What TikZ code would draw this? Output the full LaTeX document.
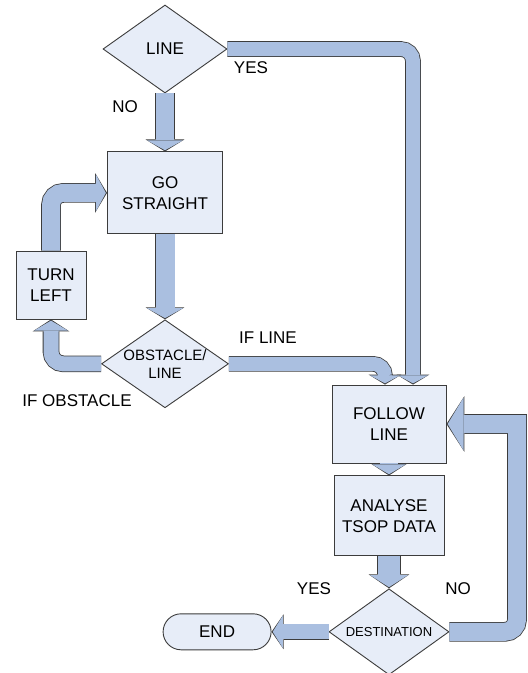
\documentclass[tikz,border=0pt]{standalone}
\usepackage{fontspec}
\setmainfont{Liberation Sans}
\usetikzlibrary{arrows.meta,positioning,shapes.geometric,calc}

\definecolor{boxfill}{RGB}{231,237,248}
\definecolor{flowfill}{RGB}{170,191,224}
\definecolor{edge}{RGB}{60,60,60}

\begin{document}
\begin{tikzpicture}[
  x=1pt, y=-1pt,
  font=\fontsize{17}{21}\selectfont,
  stepbox/.style={
    draw=edge, fill=boxfill, line width=0.9pt, align=center, inner sep=0pt},
  decision/.style={
    diamond, draw=edge, fill=boxfill, line width=0.9pt, align=center,
    inner sep=-14pt},
  term/.style={
    draw=edge, fill=boxfill, line width=0.9pt, rounded corners=18pt,
    minimum width=108pt, minimum height=36pt},
  flow/.style n args={3}{
    line width=#1, draw=flowfill, shorten >=1.2pt,
    -{Triangle[width=#2, length=#3, line width=0pt]},
    preaction={draw=edge, line width=#1+1.6pt, shorten >=0pt,
      -{Triangle[width=#2+2.8pt, length=#3+2pt, line width=0pt]}}},
  tag/.style={inner sep=0pt}
]

\path[fill=white, use as bounding box] (0,0) rectangle (528,673);

\node[decision, minimum width=124pt, minimum height=88pt] (line) at (165,49) {LINE};

\node[stepbox, below=58pt of line, minimum width=115pt, minimum height=82pt] (go)
  {GO\\STRAIGHT};

\node[decision, below=85pt of go, minimum width=127pt, minimum height=88pt,
  font=\fontsize{15}{18}\selectfont] (obst) {OBSTACLE/\\LINE};

\node[stepbox, minimum width=70pt, minimum height=68pt] (turn) at (51,285)
  {TURN\\LEFT};

\node[stepbox, minimum width=114pt, minimum height=78pt] (follow) at (389,424)
  {FOLLOW\\LINE};

\node[stepbox, below=12pt of follow, minimum width=110pt, minimum height=80pt] (analyse)
  {ANALYSE\\TSOP DATA};

\node[decision, below=32pt of analyse, minimum width=120pt, minimum height=86pt,
  font=\fontsize{13}{16}\selectfont] (dest) {DESTINATION};

\node[term, left=57pt of dest] (stop) {END};

\coordinate (back) at (517,424);

% labels
\node[tag] (yesline) at (251,68) {YES};
\node[tag] (noline) at (125,107) {NO};
\node[tag] (ifline) at (268,338) {IF LINE};
\node[tag] (ifobst) at (77,401) {IF OBSTACLE};
\node[tag] (yesdest) at (314,589) {YES};
\node[tag] (nodest) at (458,589) {NO};

% block arrows
\draw[flow={18pt}{36pt}{10pt}] (line) -- (go);
\draw[flow={14pt}{30pt}{8pt}, rounded corners=12pt] (line.east) -| ([xshift=24pt]follow.north);
\draw[flow={19pt}{36pt}{10pt}] (go) -- (obst);
\draw[flow={15pt}{34pt}{10pt}, rounded corners=12pt] (obst.west) -| (turn.south);
\draw[flow={18pt}{37pt}{10pt}, rounded corners=12pt] (turn.north) |- (go.west);
\draw[flow={14pt}{30pt}{8pt}, rounded corners=12pt] (obst.east) -| ([xshift=-4pt]follow.north);
\draw[flow={18pt}{34pt}{10pt}] (follow) -- (analyse);
\draw[flow={22pt}{38pt}{12pt}] (analyse) -- (dest);
\draw[flow={15pt}{32pt}{10pt}] (dest) -- (stop);
\draw[flow={18pt}{53pt}{16pt}] (dest.east) [rounded corners=12pt] -- (dest.east -| back)
  [sharp corners] -- (back) -- (follow.east);

\end{tikzpicture}
\end{document}
